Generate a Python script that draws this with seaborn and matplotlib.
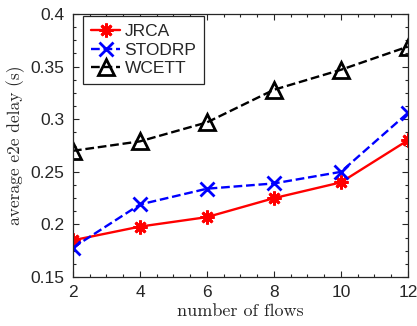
import pandas as pd
import matplotlib
matplotlib.use("Agg")
import matplotlib.pyplot as plt
from matplotlib.ticker import MultipleLocator
import seaborn as sns

# data
flows = [2, 4, 6, 8, 10, 12]
jrca = [0.185, 0.198, 0.207, 0.225, 0.240, 0.280]
stodrp = [0.178, 0.219, 0.234, 0.239, 0.250, 0.306]
wcett = [0.270, 0.279, 0.297, 0.328, 0.347, 0.369]
names = ["JRCA", "STODRP", "WCETT"]

sns.set_style("ticks")
plt.rcParams["font.family"] = ["Liberation Sans", "DejaVu Sans"]

fig = plt.figure(figsize=(4.17, 3.26), dpi=100)
ax = fig.add_axes([0.175, 0.150, 0.803, 0.807])

styles = [
    ("#ff0000", (8, 2, 0), None, "-", 10),
    ("#0000ff", "x", (6, 3), "--", 10),
    ("#000000", "^", (4, 3), "--", 12),
]
for name, vals, (col, mk, dash, ls, ms) in zip(names, [jrca, stodrp, wcett], styles):
    kw = dict(x=flows, y=vals, color=col, marker=mk, label=name,
              linewidth=1.7, markersize=ms, markeredgewidth=2,
              markeredgecolor=col, markerfacecolor="none", ax=ax,
              linestyle=ls)
    if dash:
        kw["dashes"] = dash
    sns.lineplot(**kw)

ax.set_xlim(2, 12)
ax.set_ylim(0.15, 0.4)
ax.set_xticks(flows)
ax.set_yticks([0.15, 0.2, 0.25, 0.3, 0.35, 0.4])
ax.set_yticklabels(["0.15", "0.2", "0.25", "0.3", "0.35", "0.4"])
ax.xaxis.set_minor_locator(MultipleLocator(0.5))
ax.yaxis.set_minor_locator(MultipleLocator(0.0125))
ax.tick_params(which="both", direction="in", top=True, right=True,
               colors="#262626", labelsize=12.5, width=0.8, pad=6)
ax.tick_params(which="major", length=4)
ax.tick_params(which="minor", length=2)
for s in ax.spines.values():
    s.set_visible(True)
    s.set_color("#262626")
    s.set_linewidth(0.9)

ax.set_xlabel("number of flows", family=["cmr10", "Liberation Serif"], fontsize=13, labelpad=2)
ax.set_ylabel("average e2e delay (s)", family=["cmr10", "Liberation Serif"], fontsize=12.5, labelpad=4)

leg = ax.legend(loc="upper left", bbox_to_anchor=(10 / 335, 1 - 2 / 263),
                fontsize=12.5, handlelength=1.7, borderaxespad=0,
                borderpad=0.45, labelspacing=0.2, handletextpad=0.25,
                fancybox=False, framealpha=1, edgecolor="#262626")
leg.get_frame().set_linewidth(0.9)

fig.savefig("out.png", dpi=100)
